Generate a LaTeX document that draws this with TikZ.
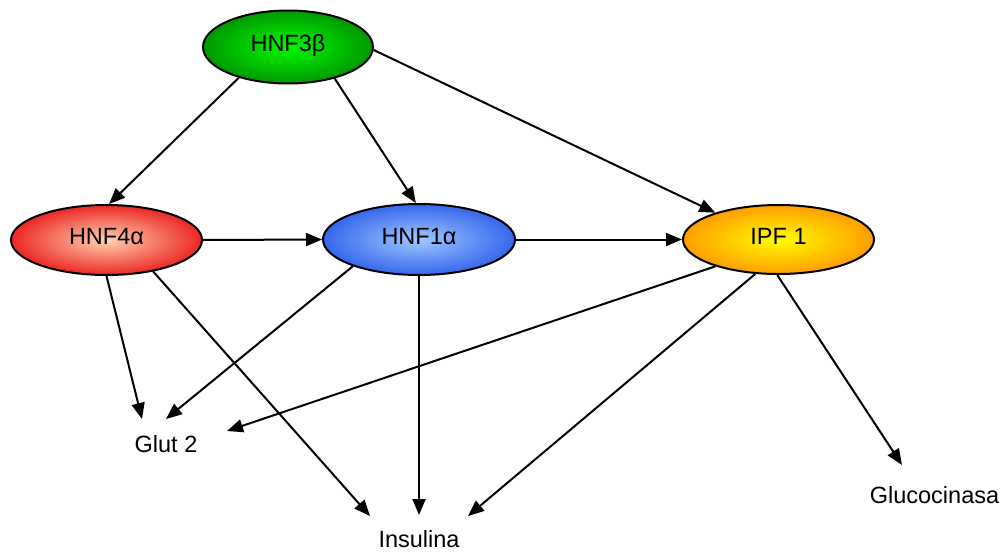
\documentclass[tikz,border=0pt]{standalone}
\usepackage{fontspec}
\setmainfont{Liberation Sans}
\usetikzlibrary{shapes.geometric,arrows.meta}
\definecolor{gI}{RGB}{0,250,0}
\definecolor{gO}{RGB}{0,145,0}
\definecolor{rI}{RGB}{255,210,175}
\definecolor{rO}{RGB}{235,25,25}
\definecolor{bI}{RGB}{160,200,255}
\definecolor{bO}{RGB}{45,95,235}
\definecolor{oI}{RGB}{255,252,0}
\definecolor{oO}{RGB}{255,150,0}
\pgfdeclareradialshading{gshade}{\pgfpoint{0bp}{0bp}}{color(0bp)=(gI); color(27bp)=(gO); color(100bp)=(gO)}
\pgfdeclareradialshading{rshade}{\pgfpoint{0bp}{0bp}}{color(0bp)=(rI); color(27bp)=(rO); color(100bp)=(rO)}
\pgfdeclareradialshading{bshade}{\pgfpoint{0bp}{0bp}}{color(0bp)=(bI); color(27bp)=(bO); color(100bp)=(bO)}
\pgfdeclareradialshading{oshade}{\pgfpoint{0bp}{0bp}}{color(0bp)=(oI); color(27bp)=(oO); color(100bp)=(oO)}
\begin{document}
\begin{tikzpicture}[x=1pt,y=-1pt,
  ell/.style={ellipse, draw=black, line width=2pt, inner sep=0pt,
    font=\fontsize{23.5}{28}\selectfont, text height=16.8pt, text depth=7pt},
  lbl/.style={font=\fontsize{23.5}{28}\selectfont, anchor=base, inner sep=0pt},
  arr/.style={-{Triangle[length=16pt,width=13pt]}, line width=2pt}]
\useasboundingbox (0,0) rectangle (1003,552);
\node[ell, shading=gshade, minimum width=170pt, minimum height=73pt] (h3) at (288,47) {HNF3β};
\node[ell, shading=rshade, minimum width=191pt, minimum height=70pt] (h4) at (106.5,240) {HNF4α};
\node[ell, shading=bshade, minimum width=192pt, minimum height=71pt] (h1) at (419,239.5) {HNF1α};
\node[ell, shading=oshade, minimum width=191pt, minimum height=69pt] (ipf) at (778.5,239.5) {IPF 1};
\node[lbl] (glut) at (166,452) {Glut 2};
\node[lbl] (ins) at (419,547) {Insulina};
\node[lbl] (gk) at (934.5,503.5) {Glucocinasa};
\coordinate (g1) at (142,419);
\coordinate (g2) at (166,419);
\coordinate (g3) at (227,431);
\coordinate (i1) at (370,516);
\coordinate (i2) at (419,515);
\coordinate (i3) at (468,516);
\coordinate (k1) at (902,465);
\draw[arr] (h3.212) -- (h4.86);
\draw[arr] (h3.326) -- (h1.95);
\draw[arr] (h3.358) -- (ipf.157);
\draw[arr] (h4.east) -- (h1.west);
\draw[arr] (h1.east) -- (ipf.west);
\draw[arr] (h4.270) -- (g1);
\draw[arr] (h4.326) -- (i1);
\draw[arr] (h1.202) -- (g2);
\draw[arr] (h1.south) -- (i2);
\draw[arr] (ipf.203) -- (g3);
\draw[arr] (ipf.236) -- (i3);
\draw[arr] (ipf.268) -- (k1);
\end{tikzpicture}
\end{document}
